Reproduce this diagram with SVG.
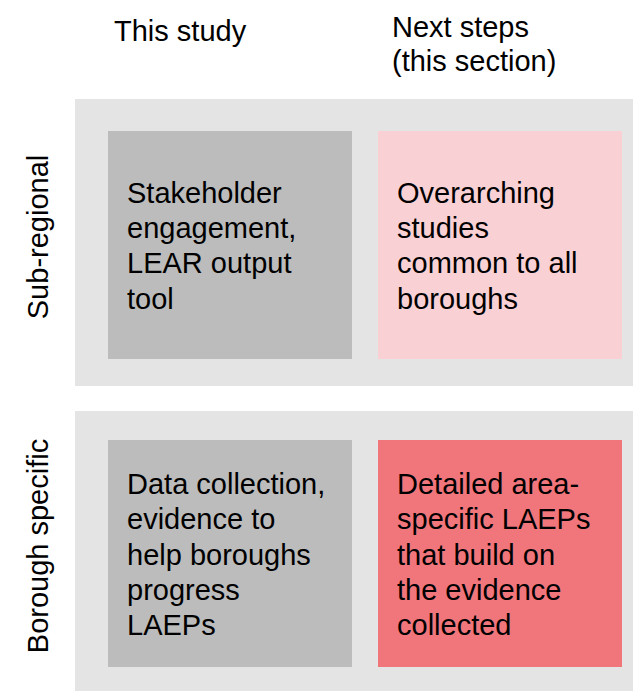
<svg xmlns="http://www.w3.org/2000/svg" width="633" height="691" viewBox="0 0 633 691">
<style>
text{font-family:"Liberation Sans",Arial,sans-serif;font-size:29px;fill:#000}
.panel{fill:#e4e4e4}
.grey{fill:#bcbcbc}
.pink{fill:#f9d1d4}
.red{fill:#f0767c}
</style>
<rect width="633" height="691" fill="#ffffff"/>
<g id="headers">
<text x="114" y="41">This study</text>
<text x="392" y="37">Next steps</text>
<text x="392" y="70.5">(this section)</text>
</g>
<g id="panel-subregional">
<rect class="panel" x="75" y="99" width="558" height="287"/>
<text transform="translate(48,237) rotate(-90)" text-anchor="middle">Sub-regional</text>
</g>
<g id="panel-borough">
<rect class="panel" x="75" y="411" width="558" height="280"/>
<text transform="translate(48,546) rotate(-90)" text-anchor="middle">Borough specific</text>
</g>
<g id="node-stakeholder">
<rect class="grey" x="108" y="131" width="244" height="228"/>
<text x="127" y="202.7">Stakeholder</text>
<text x="127" y="238">engagement,</text>
<text x="127" y="273.3">LEAR output</text>
<text x="127" y="308.7">tool</text>
</g>
<g id="node-overarching">
<rect class="pink" x="378" y="131" width="244" height="228"/>
<text x="397" y="202.7">Overarching</text>
<text x="397" y="238">studies</text>
<text x="397" y="273.3">common to all</text>
<text x="397" y="308.7">boroughs</text>
</g>
<g id="node-data">
<rect class="grey" x="108" y="440" width="244" height="227"/>
<text x="127" y="494">Data collection,</text>
<text x="127" y="529.3">evidence to</text>
<text x="127" y="564.7">help boroughs</text>
<text x="127" y="600">progress</text>
<text x="127" y="635.3">LAEPs</text>
</g>
<g id="node-detailed">
<rect class="red" x="378" y="440" width="244" height="227"/>
<text x="397" y="494">Detailed area-</text>
<text x="397" y="529.3">specific LAEPs</text>
<text x="397" y="564.7">that build on</text>
<text x="397" y="600">the evidence</text>
<text x="397" y="635.3">collected</text>
</g>
<g id="connectors"></g>
</svg>
